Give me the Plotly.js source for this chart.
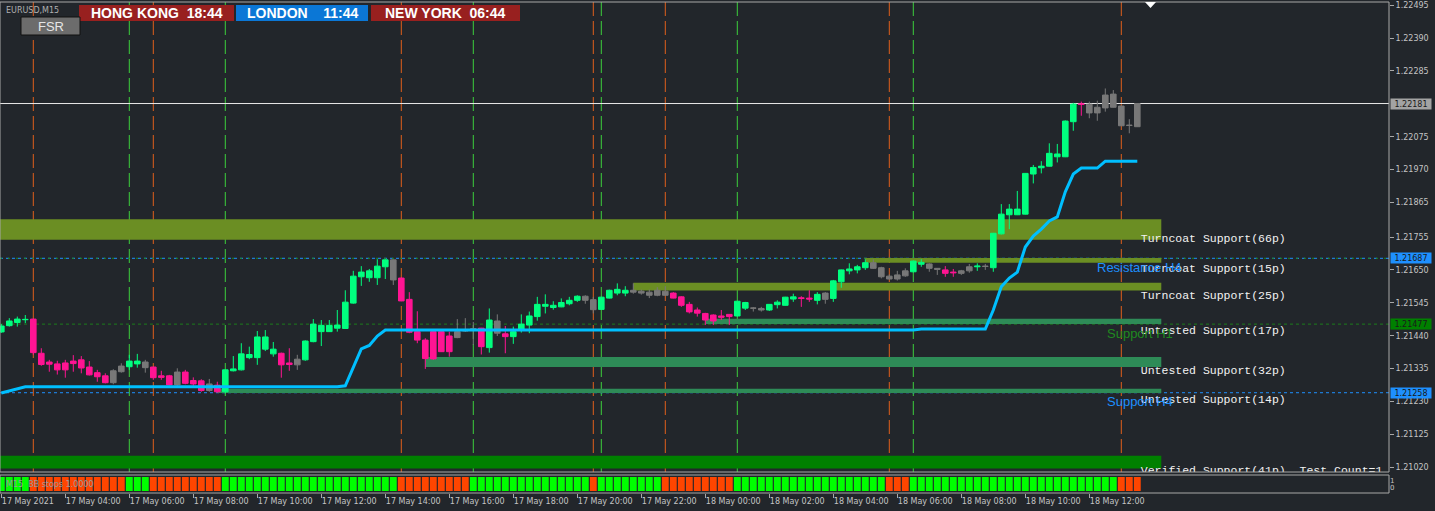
<!DOCTYPE html>
<html>
<head>
<meta charset="utf-8">
<script src="https://cdn.plot.ly/plotly-3.0.1.min.js"></script>
<style>
html,body{margin:0;padding:0;background:#22262b;overflow:hidden;}
#chart{width:1435px;height:511px;}
</style>
</head>
<body>
<div id="chart"></div>
<script>
// ---------------- DATA (EURUSD M15, 17 May 2021 02:00 -> 18 May 2021 13:30) ----------------
const symbolLabel = 'EURUSD,M15';
const firstBar = '2021-05-17 02:00';
const barMinutes = 15;

const open = [
1.21452,1.21472,1.21482,1.21491,1.21493,1.21384,1.21356,1.21350,1.21353,1.21359,
1.21363,1.21340,1.21322,1.21312,1.21290,1.21325,1.21341,1.21350,1.21356,1.21340,
1.21312,1.21312,1.21283,1.21324,1.21297,1.21296,1.21286,1.21282,1.21261,1.21328,
1.21331,1.21370,1.21370,1.21397,1.21382,1.21384,1.21353,1.21347,1.21363,1.21421,
1.21453,1.21453,1.21464,1.21463,1.21544,1.21628,1.21625,1.21625,1.21660,1.21682,
1.21624,1.21556,1.21453,1.21426,1.21453,1.21453,1.21439,1.21434,1.21455,1.21458,
1.21464,1.21402,1.21487,1.21446,1.21437,1.21461,1.21474,1.21501,1.21534,1.21530,
1.21532,1.21542,1.21553,1.21566,1.21555,1.21524,1.21560,1.21576,1.21576,1.21585,
1.21582,1.21579,1.21585,1.21582,1.21576,1.21564,1.21540,1.21522,1.21511,1.21506,
1.21503,1.21508,1.21503,1.21528,1.21528,1.21527,1.21522,1.21539,1.21537,1.21557,
1.21561,1.21560,1.21553,1.21556,1.21559,1.21612,1.21647,1.21650,1.21657,1.21673,
1.21657,1.21630,1.21621,1.21631,1.21644,1.21668,1.21669,1.21655,1.21650,1.21643,
1.21639,1.21647,1.21660,1.21662,1.21657,1.21765,1.21826,1.21826,1.21828,1.21956,
1.21976,1.21981,1.22011,1.22011,1.22123,1.22180,1.22179,1.22169,1.22167,1.22169,
1.22173,1.22112,1.22107];
const high = [
1.21477,1.21496,1.21501,1.21506,1.21495,1.21400,1.21363,1.21360,1.21363,1.21378,
1.21375,1.21359,1.21331,1.21320,1.21333,1.21352,1.21379,1.21382,1.21363,1.21341,
1.21328,1.21315,1.21336,1.21331,1.21307,1.21301,1.21302,1.21293,1.21332,1.21375,
1.21416,1.21405,1.21455,1.21458,1.21420,1.21386,1.21400,1.21379,1.21425,1.21493,
1.21490,1.21490,1.21522,1.21585,1.21647,1.21662,1.21653,1.21684,1.21684,1.21683,
1.21626,1.21579,1.21518,1.21432,1.21454,1.21454,1.21453,1.21493,1.21496,1.21484,
1.21465,1.21527,1.21508,1.21471,1.21469,1.21508,1.21517,1.21564,1.21572,1.21550,
1.21559,1.21564,1.21569,1.21569,1.21564,1.21564,1.21587,1.21607,1.21598,1.21607,
1.21587,1.21587,1.21595,1.21598,1.21579,1.21566,1.21548,1.21530,1.21513,1.21508,
1.21522,1.21509,1.21551,1.21548,1.21531,1.21532,1.21541,1.21553,1.21564,1.21574,
1.21566,1.21585,1.21579,1.21579,1.21618,1.21651,1.21671,1.21666,1.21684,1.21684,
1.21660,1.21636,1.21647,1.21655,1.21680,1.21684,1.21671,1.21656,1.21662,1.21653,
1.21650,1.21669,1.21671,1.21669,1.21768,1.21860,1.21860,1.21902,1.21959,1.21985,
1.21997,1.22054,1.22052,1.22127,1.22183,1.22187,1.22187,1.22190,1.22229,1.22224,
1.22174,1.22131,1.22182];
const low = [
1.21449,1.21469,1.21469,1.21480,1.21379,1.21344,1.21325,1.21316,1.21306,1.21325,
1.21320,1.21313,1.21293,1.21288,1.21285,1.21322,1.21331,1.21338,1.21322,1.21299,
1.21299,1.21281,1.21280,1.21285,1.21280,1.21261,1.21261,1.21258,1.21256,1.21326,
1.21329,1.21365,1.21347,1.21391,1.21373,1.21306,1.21328,1.21331,1.21360,1.21419,
1.21407,1.21452,1.21453,1.21462,1.21542,1.21599,1.21612,1.21602,1.21621,1.21602,
1.21550,1.21448,1.21416,1.21334,1.21363,1.21388,1.21373,1.21432,1.21452,1.21410,
1.21380,1.21386,1.21439,1.21384,1.21414,1.21450,1.21448,1.21488,1.21511,1.21523,
1.21531,1.21537,1.21548,1.21542,1.21511,1.21522,1.21559,1.21569,1.21566,1.21574,
1.21571,1.21560,1.21566,1.21567,1.21559,1.21532,1.21511,1.21501,1.21474,1.21474,
1.21490,1.21474,1.21501,1.21522,1.21517,1.21517,1.21519,1.21527,1.21536,1.21548,
1.21532,1.21548,1.21540,1.21542,1.21548,1.21593,1.21636,1.21639,1.21650,1.21653,
1.21623,1.21619,1.21616,1.21628,1.21642,1.21660,1.21644,1.21634,1.21628,1.21628,
1.21634,1.21641,1.21647,1.21650,1.21644,1.21763,1.21780,1.21825,1.21827,1.21926,
1.21958,1.21980,1.21993,1.22010,1.22094,1.22142,1.22134,1.22126,1.22155,1.22168,
1.22109,1.22086,1.22106];
const close = [
1.21471,1.21487,1.21493,1.21492,1.21386,1.21348,1.21349,1.21331,1.21331,1.21351,
1.21337,1.21315,1.21309,1.21290,1.21328,1.21343,1.21359,1.21359,1.21338,1.21306,
1.21307,1.21283,1.21324,1.21288,1.21286,1.21265,1.21265,1.21261,1.21331,1.21334,
1.21382,1.21380,1.21436,1.21436,1.21397,1.21347,1.21348,1.21365,1.21423,1.21477,
1.21473,1.21473,1.21474,1.21547,1.21630,1.21643,1.21647,1.21662,1.21682,1.21618,
1.21551,1.21451,1.21426,1.21367,1.21366,1.21389,1.21389,1.21453,1.21457,1.21462,
1.21405,1.21490,1.21448,1.21437,1.21453,1.21477,1.21503,1.21540,1.21540,1.21537,
1.21546,1.21553,1.21566,1.21553,1.21523,1.21563,1.21585,1.21588,1.21585,1.21579,
1.21576,1.21569,1.21569,1.21569,1.21560,1.21537,1.21516,1.21512,1.21490,1.21487,
1.21499,1.21501,1.21550,1.21546,1.21528,1.21522,1.21540,1.21547,1.21563,1.21564,
1.21559,1.21557,1.21572,1.21576,1.21615,1.21650,1.21653,1.21660,1.21673,1.21655,
1.21628,1.21621,1.21634,1.21647,1.21678,1.21674,1.21655,1.21652,1.21639,1.21641,
1.21647,1.21660,1.21662,1.21661,1.21767,1.21828,1.21844,1.21844,1.21958,1.21977,
1.21981,1.22022,1.22020,1.22125,1.22179,1.22178,1.22151,1.22151,1.22208,1.22211,
1.22110,1.22111,1.22181];
// candle colouring class: g = bull (green), p = bear (pink), n = neutral (grey)
const candleKind = ('gggg pppppppppp nn gg n ppp n ppp n p ggggggg pp n ggggggggggg n ppppppp nnn p g n p ' +
  'ggggggggg nn gggg nnnnn pppppppp gg nn gggg pp g n ggggg nnnnn gg nn pp nn g n ggggggggggg p nnnnnnn')
  .replace(/ /g, '').split('');

// BB stops line (blue)
const stopLine = [
1.21257,1.21264,1.21270,1.21277,1.21277,1.21277,1.21277,1.21277,1.21277,1.21277,
1.21277,1.21277,1.21277,1.21277,1.21277,1.21277,1.21277,1.21277,1.21277,1.21277,
1.21277,1.21277,1.21277,1.21277,1.21277,1.21277,1.21277,1.21277,1.21277,1.21277,
1.21277,1.21277,1.21277,1.21277,1.21277,1.21277,1.21277,1.21277,1.21277,1.21277,
1.21277,1.21277,1.21277,1.21280,1.21341,1.21398,1.21409,1.21439,1.21458,1.21458,
1.21458,1.21458,1.21458,1.21458,1.21458,1.21458,1.21458,1.21458,1.21458,1.21458,
1.21458,1.21458,1.21458,1.21458,1.21458,1.21458,1.21458,1.21458,1.21458,1.21458,
1.21458,1.21458,1.21458,1.21458,1.21458,1.21458,1.21458,1.21458,1.21458,1.21458,
1.21458,1.21458,1.21458,1.21458,1.21458,1.21458,1.21458,1.21458,1.21458,1.21458,
1.21458,1.21458,1.21458,1.21458,1.21458,1.21458,1.21458,1.21458,1.21458,1.21458,
1.21458,1.21458,1.21458,1.21458,1.21458,1.21458,1.21458,1.21458,1.21458,1.21458,
1.21458,1.21458,1.21458,1.21458,1.21458,1.21461,1.21461,1.21461,1.21461,1.21461,
1.21461,1.21461,1.21461,1.21461,1.21522,1.21596,1.21624,1.21643,1.21723,1.21758,
1.21780,1.21806,1.21819,1.21899,1.21956,1.21975,1.21975,1.21975,1.21997,1.21997,
1.21997,1.21997,1.21997];

// BB stops trend signal per bar (indicator sub-window)
const signal = ('uuuu dddddddddddd uuu ddddddddd uuuuuuuuuuuuuuuuuuuuuu ddddddddd uuuuuuuuuuuuuuu d ' +
  'uuuuuuuu ddddddddd uuuuuuuuuuuuuuuuuuu ddd uuuuuuuuuuuuuuuuuuuuuuuuuu ddd')
  .replace(/ /g, '').split('');
const indicatorName = 'M15  BB stops 1.0000';

// Support / resistance zones
const zoneLabel = ['Turncoat Support(66p)', 'Turncoat Support(15p)', 'Turncoat Support(25p)',
  'Untested Support(17p)', 'Untested Support(32p)', 'Untested Support(14p)',
  'Verified Support(41p)\u00a0\u00a0Test Count=1'];
const zoneKind = ['turncoat', 'turncoat', 'turncoat', 'untested', 'untested', 'untested', 'verified'];
const zoneHigh = [1.21812, 1.21688, 1.21609, 1.21494, 1.21372, 1.21271, 1.21057];
const zoneLow  = [1.21746, 1.21673, 1.21584, 1.21477, 1.21340, 1.21257, 1.21016];
const zoneStart = ['2021-05-16 22:00', '2021-05-18 05:00', '2021-05-17 21:45', '2021-05-18 00:00',
  '2021-05-17 15:15', '2021-05-17 08:45', '2021-05-16 22:00'];
const zoneEnd = '2021-05-18 14:15';

// Pivot-style levels
const levelName  = ['Resistance H4', 'Support H1', 'Support H4'];
const levelKind  = ['resH4', 'supH1', 'supH4'];
const levelPrice = [1.21687, 1.21477, 1.21258];

// Price axis ticks
const priceTicks = [1.21020, 1.21125, 1.21230, 1.21335, 1.21440, 1.21545, 1.21650, 1.21755,
  1.21865, 1.21970, 1.22075, 1.22285, 1.22390, 1.22495];

// World clocks
const clockCity = ['HONG KONG', 'LONDON', 'NEW YORK'];
const clockTime = ['18:44', '11:44', '06:44'];
const buttonText = 'FSR';

// ---------------- STYLE / LAYOUT ----------------
const BG = '#22262b';
const AXIS = '#a8a8a8';
const TXT = '#c4c4c4';
const candleColor = {g: '#00FF7F', p: '#FF1493', n: '#787878'};
const signalColor = {u: '#00FF00', d: '#FF4500'};
const zoneColor = {turncoat: '#6B8E23', untested: '#2E8B57', verified: '#008000'};
const levelStyle = {
  resH4: {color: '#1E90FF', text: '#1E90FF', box: '#1E90FF', x: 1095},
  supH1: {color: '#1c7c1c', text: '#1f8a1f', box: '#008000', x: 1105},
  supH4: {color: '#1E90FF', text: '#1E90FF', box: '#1E90FF', x: 1105}
};
const clockBox = [{x0: 79, x1: 234, c: '#98201f'}, {x0: 236, x1: 368, c: '#0b77d6'}, {x0: 371, x1: 520, c: '#98201f'}];

const W = 1389, BOT = 493, PH = 491;          // plot area in pixels (top margin 2)
const px = x => x / W;
const py = y => (BOT - y) / PH;

const STEP = barMinutes * 60000;
const t0 = Date.parse(firstBar.replace(' ', 'T') + ':00Z');
const iso = ms => new Date(ms).toISOString().slice(0, 23).replace('T', ' ');
const times = open.map((_, k) => iso(t0 + k * STEP));
const lastT = times[times.length - 1];
const months = ['Jan','Feb','Mar','Apr','May','Jun','Jul','Aug','Sep','Oct','Nov','Dec'];

// time ticks every 2 hours (8 bars)
const tickVals = [], tickText = [];
for (let k = 0; k < times.length; k += 8) {
  const d = new Date(t0 + k * STEP);
  const dd = d.getUTCDate() + ' ' + months[d.getUTCMonth()];
  const hm = String(d.getUTCHours()).padStart(2, '0') + ':' + String(d.getUTCMinutes()).padStart(2, '0');
  tickVals.push(times[k]);
  tickText.push(k === 0 ? dd + ' ' + d.getUTCFullYear() : dd + ' ' + hm);
}

const traces = [];
// candles
['g', 'p', 'n'].forEach(kind => {
  const idx = [];
  candleKind.forEach((c, i) => { if (c === kind) idx.push(i); });
  const col = candleColor[kind];
  traces.push({
    type: 'candlestick', xaxis: 'x', yaxis: 'y',
    x: idx.map(i => times[i]), open: idx.map(i => open[i]), high: idx.map(i => high[i]),
    low: idx.map(i => low[i]), close: idx.map(i => close[i]),
    increasing: {line: {color: col, width: 1}, fillcolor: col},
    decreasing: {line: {color: col, width: 1}, fillcolor: col},
    whiskerwidth: 0, hoverinfo: 'skip', showlegend: false
  });
});
// BB stops line
traces.push({type: 'scatter', mode: 'lines', x: times, y: stopLine, xaxis: 'x', yaxis: 'y',
  line: {color: '#00BFFF', width: 3}, hoverinfo: 'skip', showlegend: false});
// zone labels (clipped to main window)
traces.push({type: 'scatter', mode: 'markers+text', xaxis: 'x', yaxis: 'y',
  x: zoneLabel.map(() => lastT), y: zoneHigh.map((h, i) => (h + zoneLow[i]) / 2),
  text: zoneLabel, textposition: 'bottom right',
  textfont: {family: 'Liberation Mono', size: 11.5, color: '#f2f2f2'},
  marker: {size: 4, color: 'rgba(0,0,0,0)'}, cliponaxis: true, hoverinfo: 'skip', showlegend: false});
// indicator sub-window
traces.push({type: 'bar', xaxis: 'x', yaxis: 'y2', x: times, y: signal.map(() => 1),
  marker: {color: signal.map(s => signalColor[s]), line: {width: 0}}, hoverinfo: 'skip', showlegend: false});

const shapes = [];
// zones
zoneLabel.forEach((_, i) => shapes.push({type: 'rect', xref: 'x', yref: 'y', layer: 'below',
  x0: zoneStart[i], x1: zoneEnd, y0: zoneLow[i], y1: zoneHigh[i],
  fillcolor: zoneColor[zoneKind[i]], line: {width: 0}}));
// signal change markers
for (let k = 1; k < signal.length; k++) {
  if (signal[k] !== signal[k - 1]) {
    shapes.push({type: 'line', xref: 'x', yref: 'y domain', layer: 'below', x0: times[k], x1: times[k], y0: 0, y1: 1,
      line: {color: signal[k] === 'u' ? '#3ccf3c' : '#e0601c', width: 1, dash: '14px,5px'}});
  }
}
// level lines
levelPrice.forEach((p, i) => {
  const st = levelStyle[levelKind[i]];
  shapes.push({type: 'line', xref: 'paper', yref: 'y', layer: 'below', x0: 0, x1: 1, y0: p, y1: p,
    line: {color: st.color, width: 1, dash: '3px,3px'}});
  if (levelKind[i] === 'resH4') {
    shapes.push({type: 'line', xref: 'paper', yref: 'y', layer: 'below', x0: 0, x1: 1, y0: p, y1: p,
      line: {color: '#1c8a1c', width: 1, dash: '2px,6px'}});
  }
});
// bid line
const bid = close[close.length - 1];
shapes.push({type: 'line', xref: 'paper', yref: 'y', layer: 'below', x0: 0, x1: 1, y0: bid, y1: bid,
  line: {color: '#e8e8e8', width: 1}});
// window frames
shapes.push({type: 'rect', xref: 'paper', yref: 'y domain', x0: 0, x1: 1, y0: 0, y1: 1, line: {color: AXIS, width: 1}});
shapes.push({type: 'rect', xref: 'paper', yref: 'y2 domain', x0: 0, x1: 1, y0: 0, y1: 1, line: {color: AXIS, width: 1}});
// chart-shift marker
shapes.push({type: 'path', xref: 'paper', yref: 'paper',
  path: `M ${px(1145)} ${py(2)} L ${px(1156)} ${py(2)} L ${px(1150.5)} ${py(8)} Z`,
  fillcolor: '#ffffff', line: {width: 0}});
// clock boxes + FSR button
clockBox.forEach(b => shapes.push({type: 'rect', xref: 'paper', yref: 'paper',
  x0: px(b.x0), x1: px(b.x1), y0: py(21), y1: py(5), fillcolor: b.c, line: {width: 0}}));
shapes.push({type: 'rect', xref: 'paper', yref: 'paper', x0: px(21), x1: px(80), y0: py(35), y1: py(17),
  fillcolor: '#6c6c6c', line: {color: '#111111', width: 1}});

const annotations = [];
clockCity.forEach((c, i) => annotations.push({xref: 'paper', yref: 'paper',
  x: px((clockBox[i].x0 + clockBox[i].x1) / 2), y: py(13), xanchor: 'center', yanchor: 'middle',
  text: c + (c === 'LONDON' ? '\u00a0\u00a0\u00a0 ' : '\u00a0 ') + clockTime[i], showarrow: false,
  font: {family: 'Liberation Sans', size: 14, weight: 700, color: '#ffffff'}}));
annotations.push({xref: 'paper', yref: 'paper', x: px(50.5), y: py(26), xanchor: 'center', yanchor: 'middle',
  text: buttonText, showarrow: false, font: {family: 'Liberation Sans', size: 13, color: '#e6e6e6'}});
annotations.push({xref: 'paper', yref: 'paper', x: px(4), y: py(11), xanchor: 'left', yanchor: 'middle',
  text: symbolLabel, showarrow: false, font: {family: 'DejaVu Sans', size: 8, color: '#b0b0b0'}});
annotations.push({xref: 'paper', yref: 'paper', x: px(4), y: py(484), xanchor: 'left', yanchor: 'middle',
  text: indicatorName.replace('  ', '\u00a0 '), showarrow: false, font: {family: 'DejaVu Sans', size: 8, color: '#9a9a9a'}});
// level names
levelName.forEach((n, i) => {
  const st = levelStyle[levelKind[i]];
  annotations.push({xref: 'paper', yref: 'y', x: px(st.x), y: levelPrice[i], yshift: -9,
    xanchor: 'left', yanchor: 'middle', text: n, showarrow: false,
    font: {family: 'Liberation Sans', size: 13, color: st.text}});
});
// price tags on the axis
function tag(p, bg) {
  annotations.push({xref: 'paper', yref: 'y', x: 1, xshift: 1, y: p, xanchor: 'left', yanchor: 'middle',
    text: p.toFixed(5), showarrow: false, bgcolor: bg, width: 40, height: 10, borderpad: 0,
    font: {family: 'DejaVu Sans', size: 8, color: '#1a1a1a'}});
}
tag(bid, '#a3a3a3');
levelPrice.forEach((p, i) => tag(p, levelStyle[levelKind[i]].box));

const layout = {
  width: 1435, height: 511,
  margin: {l: 0, r: 46, t: 2, b: 18, autoexpand: false},
  paper_bgcolor: BG, plot_bgcolor: BG,
  showlegend: false, dragmode: false,
  boxgap: 0.2, boxgroupgap: 0.125, bargap: 0.14,
  xaxis: {
    type: 'date', anchor: 'y2',
    range: [iso(t0 - 0.1625 * STEP), iso(t0 + 173.4625 * STEP)],
    rangeslider: {visible: false},
    tickvals: tickVals, ticktext: tickText, ticks: 'outside', ticklen: 4, tickcolor: AXIS,
    ticklabelposition: 'outside right',
    tickfont: {family: 'DejaVu Sans', size: 8, color: TXT},
    showgrid: false, zeroline: false, showline: false, fixedrange: true
  },
  yaxis: {
    domain: [(BOT - 472) / PH, 1], range: [1.21005, 1.22505], side: 'right', anchor: 'x',
    tickvals: priceTicks, ticktext: priceTicks.map(v => v.toFixed(5)),
    ticks: 'outside', ticklen: 4, tickcolor: AXIS,
    tickfont: {family: 'DejaVu Sans', size: 8, color: TXT},
    showgrid: false, zeroline: false, showline: false, fixedrange: true
  },
  yaxis2: {
    domain: [0, (BOT - 475) / PH], range: [-0.143, 1.143], side: 'right', anchor: 'x',
    tickvals: [0.74, 0.26], ticktext: ['1', '0'], ticks: '',
    tickfont: {family: 'DejaVu Sans', size: 7, color: TXT},
    showgrid: false, zeroline: false, showline: false, fixedrange: true
  },
  shapes: shapes,
  annotations: annotations
};

Plotly.newPlot('chart', traces, layout, {displayModeBar: false, staticPlot: true});
</script>
</body>
</html>
